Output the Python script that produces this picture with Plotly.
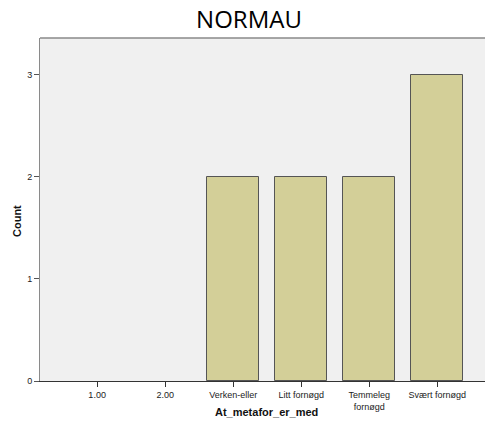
import plotly.graph_objects as go

categories = ["1.00", "2.00", "Verken-eller", "Litt fornøgd", "Temmeleg<br>fornøgd", "Svært fornøgd"]
counts = [0, 0, 2, 2, 2, 3]
y_ticks = [0, 1, 2, 3]

# page body has an 8px margin; figure sized so the plot lands where the reference has it
W, H = 485, 424

fig = go.Figure()
fig.add_trace(go.Bar(
    x=categories, y=counts,
    width=0.76,
    marker=dict(color="#d3cf98",
                line=dict(color="#555555", width=[0 if c == 0 else 1 for c in counts])),
))

fig.update_layout(
    width=W, height=H,
    margin=dict(l=32, r=0, t=30, b=51, autoexpand=False),
    paper_bgcolor="white", plot_bgcolor="#f0f0f0",
    showlegend=False,
    title=dict(text="NORMAU", x=(249 - 8) / W, xanchor="center", y=1 - 12 / H, yanchor="middle",
               font=dict(family="Open Sans", size=24, color="#000000")),
    font=dict(family="Liberation Sans", size=9, color="#333333"),
    bargap=0,
)
fig.update_xaxes(
    type="category", range=[-0.84, 5.82], automargin=False,
    showgrid=False, zeroline=False,
    showline=True, linecolor="#333333", linewidth=1,
    ticks="outside", ticklen=5, tickcolor="#333333",
    tickfont=dict(family="Liberation Sans", size=9, color="#222222"),
)
fig.update_yaxes(
    range=[0, 3.36], tickvals=y_ticks, automargin=False,
    showgrid=False, zeroline=False,
    showline=True, linecolor="#8a8a8a", linewidth=1,
    ticks="outside", ticklen=5, tickcolor="#555555",
    tickfont=dict(family="Liberation Sans", size=9, color="#222222"),
)
fig.add_annotation(text="<b>At_metafor_er_med</b>", xref="paper", yref="paper",
                   x=(266 - 40) / 453, y=-(412 - 381) / 343, xanchor="center", yanchor="middle",
                   showarrow=False, font=dict(family="Liberation Sans", size=11, color="#111111"))
fig.add_annotation(text="<b>Count</b>", xref="paper", yref="paper",
                   x=-(40 - 17) / 453, y=(381 - 221) / 343, xanchor="center", yanchor="middle",
                   textangle=-90, showarrow=False,
                   font=dict(family="Liberation Sans", size=11, color="#111111"))
fig.add_shape(type="line", xref="paper", yref="paper", x0=0, x1=1, y0=1, y1=1,
              line=dict(color="#8a8a8a", width=1.5))

fig.write_html("out.html")
